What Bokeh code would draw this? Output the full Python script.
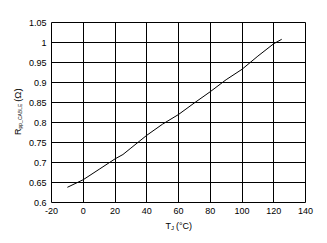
import math
from bokeh.plotting import figure
from bokeh.layouts import column, row
from bokeh.models import FixedTicker, Range1d
from bokeh.core.properties import value
from bokeh.embed import file_html
from bokeh.resources import INLINE

# data
temp_c = [-10, 0, 10, 20, 25, 30, 40, 50, 60, 70, 80, 90, 100, 110, 120, 125]
r_cable = [0.638, 0.657, 0.683, 0.709, 0.720, 0.736, 0.768, 0.796, 0.820, 0.849,
           0.877, 0.907, 0.933, 0.966, 0.997, 1.008]

x_ticks = [-20, 0, 20, 40, 60, 80, 100, 120, 140]
x_tick_labels = ["-20", "0", "20", "40", "60", "80", "100", "120", "140"]
y_ticks = [0.6, 0.65, 0.7, 0.75, 0.8, 0.85, 0.9, 0.95, 1.0, 1.05]
y_tick_labels = ["0.6", "0.65", "0.7", "0.75", "0.8", "0.85", "0.9", "0.95", "1", "1.05"]

x_title = ["T", "J", "(°C)"]
y_title = ["R", "pp_CABLE", "(Ω)"]

FONT = "Liberation Sans"

# ---------------- main chart ----------------
p = figure(width=302, height=220, output_backend="svg", toolbar_location=None,
           x_range=Range1d(-20, 140), y_range=Range1d(0.6, 1.05),
           min_border_left=25, min_border_right=22, min_border_top=22,
           min_border_bottom=18)
p.background_fill_color = "white"
p.border_fill_color = "white"
p.outline_line_color = "black"
p.outline_line_width = 1

for ax in (p.xaxis[0], p.yaxis[0]):
    ax.axis_line_color = None
    ax.major_tick_line_color = None
    ax.minor_tick_line_color = None
    ax.major_tick_out = 0
    ax.major_tick_in = 0
    ax.major_label_text_font = FONT
    ax.major_label_text_font_size = "9px"
    ax.major_label_text_color = "black"

p.xaxis.ticker = FixedTicker(ticks=x_ticks)
p.yaxis.ticker = FixedTicker(ticks=y_ticks)
p.xaxis.major_label_overrides = {t: l for t, l in zip(x_ticks, x_tick_labels)}
p.yaxis.major_label_overrides = {t: l for t, l in zip(y_ticks, y_tick_labels)}
p.xaxis.major_label_standoff = 5
p.yaxis.major_label_standoff = 5

p.xgrid.ticker = FixedTicker(ticks=x_ticks)
p.ygrid.ticker = FixedTicker(ticks=y_ticks)
p.grid.grid_line_color = "black"
p.grid.grid_line_width = 1
p.grid.grid_line_alpha = 1

p.line(temp_c, r_cable, line_color="black", line_width=1)


def blank(w, h):
    f = figure(width=w, height=h, output_backend="svg", toolbar_location=None,
               x_range=Range1d(0, w), y_range=Range1d(0, h),
               x_axis_location=None, y_axis_location=None,
               min_border=0)
    f.outline_line_color = None
    f.grid.visible = False
    f.background_fill_color = "white"
    f.border_fill_color = "white"
    return f


# ---------------- y axis title (left strip) ----------------
yl = blank(25, 220)
ang = math.pi / 2
yl.text(x=[17], y=[220 - 137.5], text=[y_title[0]], angle=ang,
        text_font=value(FONT), text_font_size="9px", text_color="black",
        text_align="left", text_baseline="middle")
yl.text(x=[19.5], y=[220 - 129.5], text=[y_title[1]], angle=ang,
        text_font=value(FONT), text_font_size="5px", text_color="black",
        text_align="left", text_baseline="middle")
yl.text(x=[17], y=[220 - 97], text=[y_title[2]], angle=ang,
        text_font=value(FONT), text_font_size="9.5px", text_color="black",
        text_align="left", text_baseline="middle")

# ---------------- x axis title (bottom strip) ----------------
xl = blank(327, 23)
yc = 243 - 225.5
xl.text(x=[165], y=[yc], text=[x_title[0]],
        text_font=value(FONT), text_font_size="9px", text_color="black",
        text_align="left", text_baseline="middle")
xl.text(x=[170.5], y=[yc - 2], text=[x_title[1]],
        text_font=value(FONT), text_font_size="6px", text_color="black",
        text_align="left", text_baseline="middle")
xl.text(x=[175.5], y=[yc], text=[x_title[2]],
        text_font=value(FONT), text_font_size="9px", text_color="black",
        text_align="left", text_baseline="middle")

layout = column(row(yl, p, spacing=0), xl, spacing=0)

open("out.html", "w").write(file_html(layout, INLINE))
